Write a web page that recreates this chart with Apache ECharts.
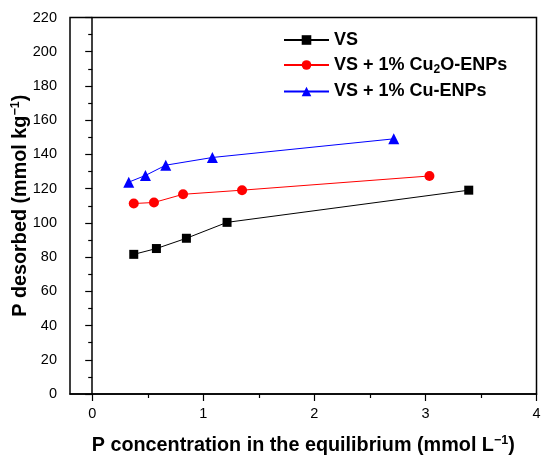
<!DOCTYPE html>
<html>
<head>
<meta charset="utf-8">
<script src="https://cdn.jsdelivr.net/npm/echarts@6.0.0/dist/echarts.min.js"></script>
<style>
html,body{margin:0;padding:0;background:#fff;}
#chart{width:550px;height:464px;}
</style>
</head>
<body>
<div id="chart"></div>
<script>
// ---- data ----
const seriesNames = ['VS', 'VS + 1% Cu2O-ENPs', 'VS + 1% Cu-ENPs'];
const vsX   = [0.374, 0.578, 0.848, 1.214, 3.39];
const vsY   = [81.6, 85.0, 91.0, 100.3, 119.1];
const cu2oX = [0.374, 0.556, 0.818, 1.349, 3.036];
const cu2oY = [111.3, 111.9, 116.7, 119.1, 127.4];
const cuX   = [0.329, 0.479, 0.662, 1.082, 2.715];
const cuY   = [123.8, 127.7, 133.7, 138.2, 149.1];
const xMajorTicks = [0, 1, 2, 3, 4];
const xMinorTicks = [0.5, 1.5, 2.5, 3.5];
const xRange = [-0.2, 4];
const yRange = [0, 220];
const yInterval = 20;

const pair = (xs, ys) => xs.map((x, i) => [x, ys[i]]);
const FONT = '"Liberation Sans", Arial, sans-serif';

const chart = echarts.init(document.getElementById('chart'), null, {renderer: 'canvas'});
const titleRich = {
  t: {fontSize: 19.8, fontWeight: 'bold', fontFamily: FONT, color: '#000'},
  s: {fontSize: 12.5, fontWeight: 'bold', fontFamily: FONT, color: '#000', padding: [0, 0, 10, 0]}
};
const legendRich = {
  t: {fontSize: 18, fontWeight: 'bold', fontFamily: FONT, color: '#000'},
  b: {fontSize: 12, fontWeight: 'bold', fontFamily: FONT, color: '#000', padding: [9, 0, 0, 0]}
};

chart.setOption({
  backgroundColor: '#fff',
  animation: false,
  grid: {left: 70, right: 13.5, top: 17.5, bottom: 70, containLabel: false, outerBoundsMode: 'none',
         show: true, borderColor: '#000', borderWidth: 1.5, backgroundColor: 'transparent'},
  legend: {
    orient: 'vertical', left: 283, top: 31, padding: 0, itemGap: 7,
    itemWidth: 45, itemHeight: 12,
    data: seriesNames,
    formatter: function (name) {
      if (name.indexOf('Cu2O') >= 0) return '{t|VS + 1% Cu}{b|2}{t|O-ENPs}';
      return '{t|' + name + '}';
    },
    textStyle: {rich: legendRich, fontSize: 18, fontWeight: 'bold', fontFamily: FONT, color: '#000'}
  },
  xAxis: [{
    type: 'value', min: xRange[0], max: xRange[1],
    position: 'bottom',
    name: '{t|P concentration in the equilibrium (mmol L}{s|\u22121}{t|)}',
    nameLocation: 'middle', nameGap: 40, nameMoveOverlap: false,
    nameTextStyle: {rich: titleRich},
    axisLine: {show: true, lineStyle: {color: '#000', width: 1.5}},
    axisTick: {show: true, inside: false, length: 7, customValues: xMajorTicks, lineStyle: {color: '#000', width: 1.2}},
    axisLabel: {show: true, customValues: xMajorTicks, margin: 12, fontSize: 14.5, fontFamily: FONT, color: '#000'},
    splitLine: {show: false}
  }, {
    type: 'value', min: xRange[0], max: xRange[1],
    position: 'bottom',
    axisLine: {show: false},
    axisTick: {show: true, inside: false, length: 4, customValues: xMinorTicks, lineStyle: {color: '#000', width: 1.2}},
    axisLabel: {show: false},
    splitLine: {show: false}
  }],
  yAxis: {
    type: 'value', min: yRange[0], max: yRange[1], interval: yInterval,
    name: '{t|P desorbed (mmol kg}{s|\u22121}{t|)}',
    nameLocation: 'middle', nameGap: 38, nameMoveOverlap: false,
    nameTextStyle: {rich: titleRich},
    axisLine: {show: true, lineStyle: {color: '#000', width: 1.5}},
    axisTick: {show: true, inside: false, length: 7, lineStyle: {color: '#000', width: 1.2}},
    minorTick: {show: true, splitNumber: 2, length: 4, lineStyle: {color: '#000', width: 1.2}},
    axisLabel: {margin: 13, fontSize: 14.5, fontFamily: FONT, color: '#000'},
    splitLine: {show: false}
  },
  series: [{
    name: seriesNames[0], type: 'line', data: pair(vsX, vsY),
    symbol: 'rect', symbolSize: 9,
    itemStyle: {color: '#000'}, lineStyle: {color: '#000', width: 1}
  }, {
    name: seriesNames[1], type: 'line', data: pair(cu2oX, cu2oY),
    symbol: 'circle', symbolSize: 10,
    itemStyle: {color: '#ff0000'}, lineStyle: {color: '#ff0000', width: 1}
  }, {
    name: seriesNames[2], type: 'line', data: pair(cuX, cuY),
    symbol: 'triangle', symbolSize: 11,
    itemStyle: {color: '#0000ff'}, lineStyle: {color: '#0000ff', width: 1}
  }]
});
</script>
</body>
</html>
